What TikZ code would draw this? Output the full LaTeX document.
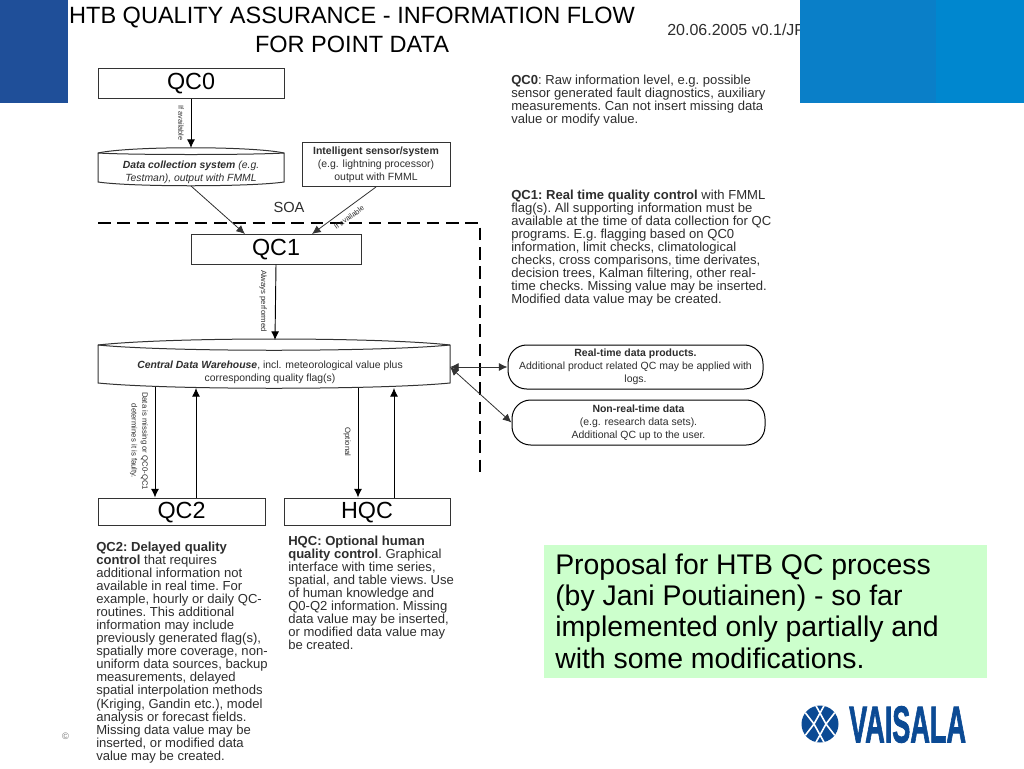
\documentclass[tikz,border=0pt]{standalone}
\usepackage{fontspec}
\setmainfont{Liberation Sans}
\newfontfamily\logofont[UprightFont=* Bold,FakeBold=2]{Liberation Sans}
\usetikzlibrary{arrows.meta,calc}
\newcommand{\fsz}[2]{\fontsize{#1}{#2}\selectfont}
\definecolor{diagtext}{HTML}{2E2E2E}
\definecolor{diagline}{HTML}{333333}
\definecolor{bandleft}{HTML}{1F4F99}
\definecolor{bandright}{HTML}{0A7FC8}
\definecolor{bandrighttwo}{HTML}{0087CF}
\definecolor{greenbox}{HTML}{CCFFCC}
\definecolor{logoblue}{HTML}{0B4A94}
\tikzset{
  x=0.75pt,y=-0.75pt,
  qcbox/.style={draw=diagline,line width=0.75pt,text=black,inner sep=0pt,text height=10.4pt,text depth=0.3pt,font=\fsz{17.5}{20}},
  holder/.style={inner sep=0pt,text=diagtext,align=center,font=\fsz{7.8}{9.5}},
  shapeline/.style={draw=diagline,line width=0.75pt,fill=white},
  note/.style={inner sep=0pt,anchor=north west,align=left,text=diagtext,font=\fsz{9.8}{9.8}\frenchspacing},
  tinylab/.style={inner sep=0pt,text=diagtext,align=center,font=\fsz{5.8}{8}},
  flow/.style={draw=black,line width=0.7pt,-{Latex[length=6.5pt,width=6pt]}},
  thinflow/.style={draw=diagline,line width=0.6pt,-{Latex[length=6.5pt,width=6pt]}},
  twoway/.style={draw=diagline,line width=0.6pt,{Latex[length=6.5pt,width=6pt]}-{Latex[length=6.5pt,width=6pt]}},
  soa/.style={draw=black,line width=1pt,dash pattern=on 9.5pt off 5pt},
  pill/.style={draw=black,line width=0.75pt,rounded corners=14pt,inner sep=0pt,align=center,text=diagtext,font=\fsz{7.85}{9.6}}
}
\begin{document}
\begin{tikzpicture}
\useasboundingbox (0,0) rectangle (1024,768);
\fill[white] (0,0) rectangle (1024,768);
% title
\node[inner sep=0pt,align=center,text=black,font=\fsz{17.65}{21.2}] (title) at (352,30) {HTB QUALITY ASSURANCE - INFORMATION FLOW\\FOR POINT DATA};
\node[inner sep=0pt,anchor=west,text=diagtext,font=\fsz{12}{13}] (date) at (667,30) {20.06.2005 v0.1/JP};
% slide bands
\fill[bandleft] (0,0) rectangle (68,103);
\fill[bandright] (800,0) rectangle (936,103);
\fill[bandrighttwo] (936,0) rectangle (1024,103);
% boxes
\node[qcbox,minimum width=139.5pt,minimum height=22.5pt] (qc0) at (191,83) {QC0};
\node[qcbox,minimum width=127.5pt,minimum height=22.5pt] (qc1) at (276,249) {QC1};
\node[qcbox,minimum width=125.25pt,minimum height=20.25pt] (qc2) at (181.5,511.5) {QC2};
\node[qcbox,minimum width=124.5pt,minimum height=20.25pt] (hqc) at (367,511.5) {HQC};
\node[draw=diagline,line width=0.75pt,inner sep=0pt,minimum width=111pt,minimum height=33pt,align=center,text=diagtext,font=\fsz{7.85}{9.6}] (sensor) at (376,164.5)
  {\textbf{Intelligent sensor/system}\\(e.g. lightning processor)\\output with FMML};
% data collection system shape
\path[shapeline] (98,153) .. controls (130,146) and (252,146) .. (284,153)
  -- (284,182) .. controls (250,187) and (132,187) .. (98,182) -- cycle;
\draw[diagline,line width=0.75pt] (98,153) .. controls (130,155) and (252,155) .. (284,153);
\node[holder,minimum width=139.5pt,minimum height=28.5pt] (dcs) at (191,172)
  {\textit{\textbf{Data collection system} (e.g.}\\\textit{Testman), output with FMML}};
\coordinate (dcstop) at (191,148);
\coordinate (dcsbot) at (191,186);
% central data warehouse shape
\path[shapeline] (98,345) .. controls (170,337) and (378,337) .. (450,345)
  -- (450,383) .. controls (378,390) and (170,390) .. (98,383) -- cycle;
\draw[diagline,line width=0.75pt] (98,345) .. controls (170,352) and (378,352) .. (450,345);
\node[holder,minimum width=264pt,minimum height=28pt] (cdw) at (270,372)
  {\textit{\textbf{Central Data Warehouse}}, incl. meteorological value plus\\corresponding quality flag(s)};
\coordinate (cdwtop) at (275,340);
\coordinate (cdwq2a) at (155,387);
\coordinate (cdwq2b) at (196,388);
\coordinate (cdwha) at (358,388);
\coordinate (cdwhb) at (394,388);
\coordinate (cdwport) at (450,367);
% SOA boundary
\coordinate (soastart) at (98,223);
\coordinate (soacorner) at (480,223);
\coordinate (soaend) at (480,475);
\draw[soa] (soastart) -- (soacorner) -- (soaend);
\node[inner sep=0pt,text=diagtext,font=\fsz{11}{12}] (soalab) at (289,207) {SOA};
% pills
\node[pill,minimum width=191.25pt,minimum height=33pt] (rt) at (635.5,367)
  {\textbf{Real-time data products.}\\Additional product related QC may be applied with\\logs.};
\node[pill,minimum width=189.75pt,minimum height=33.75pt] (nrt) at (638.5,422.5)
  {\textbf{Non-real-time data}\\(e.g. research data sets).\\Additional QC up to the user.};
% connectors
\coordinate (qc1a) at (245,234);
\coordinate (qc1b) at (312,234);
\draw[flow] (qc0.south) -- (dcstop);
\draw[thinflow] (dcsbot) -- (qc1a);
\draw[thinflow] (sensor.south) -- (qc1b);
\draw[flow] (qc1.south) -- (cdwtop);
\draw[flow] (cdwq2a) -- (qc2.north -| cdwq2a);
\draw[flow] (qc2.north -| cdwq2b) -- (cdwq2b);
\draw[flow] (cdwha) -- (hqc.north -| cdwha);
\draw[flow] (hqc.north -| cdwhb) -- (cdwhb);
\draw[twoway] (cdwport) -- (rt.west);
\draw[twoway] (cdwport) -- (nrt.west);
% connector labels
\node[tinylab,font=\fsz{5.5}{7},rotate=-90] (la) at (181,123) {If available};
\node[tinylab,rotate=-90] (lb) at (263,301) {Always performed};
\node[tinylab,rotate=-90] (lc) at (139,441) {Data is missing or QC0-QC1\\determines it is faulty.};
\node[tinylab,rotate=-90] (ld) at (347,442) {Optional};
\node[tinylab,font=\fsz{5.5}{7},rotate=36] (le) at (349,217.5) {If available};
% notes
\node[note] (n0) at (511,74.5) {\textbf{QC0}: Raw information level, e.g. possible\\sensor generated fault diagnostics, auxiliary\\measurements. Can not insert missing data\\value or modify value.};
\node[note] (n1) at (511,189.5) {\textbf{QC1: Real time quality control} with FMML\\flag(s). All supporting information must be\\available at the time of data collection for QC\\programs. E.g. flagging based on QC0\\information, limit checks, climatological\\checks, cross comparisons, time derivates,\\decision trees, Kalman filtering, other real-\\time checks. Missing value may be inserted.\\Modified data value may be created.};
\node[note] (n2) at (96,541.5) {\textbf{QC2: Delayed quality}\\\textbf{control} that requires\\additional information not\\available in real time. For\\example, hourly or daily QC-\\routines. This additional\\information may include\\previously generated flag(s),\\spatially more coverage, non-\\uniform data sources, backup\\measurements, delayed\\spatial interpolation methods\\(Kriging, Gandin etc.), model\\analysis or forecast fields.\\Missing data value may be\\inserted, or modified data\\value may be created.};
\node[note] (n3) at (288,535.5) {\textbf{HQC: Optional human}\\\textbf{quality control}. Graphical\\interface with time series,\\spatial, and table views. Use\\of human knowledge and\\Q0-Q2 information. Missing\\data value may be inserted,\\or modified data value may\\be created.};
% green comment
\node[fill=greenbox,inner sep=0pt,minimum width=332.25pt,minimum height=99.75pt] (green) at (765.5,611.5) {};
\node[inner sep=0pt,anchor=north west,align=left,text=black,font=\fsz{21.3}{23.3}] (greentext) at (555,554) {Proposal for HTB QC process\\(by Jani Poutiainen) - so far\\implemented only partially and\\with some modifications.};
% copyright
\node[inner sep=0pt,text=black!55,font=\fsz{7}{8}] (copy) at (65.5,736) {©};
% logo
\begin{scope}[shift={(820,724)}]
\fill[logoblue] (0,0) circle (18.5);
\begin{scope}
\clip (0,0) circle (18.5);
\draw[white,line width=1.2pt] (-5,-20) -- (6,0) -- (-5,20);
\draw[white,line width=1.2pt] (5,-20) -- (-6,0) -- (5,20);
\draw[white,line width=1.2pt] (-16,-13) -- (-6,0) -- (-16,13);
\draw[white,line width=1.2pt] (16,-13) -- (6,0) -- (16,13);
\end{scope}
\end{scope}
\node[inner sep=0pt,anchor=west,text=logoblue,font=\fsz{38.7}{40}\logofont,xscale=0.525] (logo) at (849,724.5) {VAISALA};
\end{tikzpicture}
\end{document}
